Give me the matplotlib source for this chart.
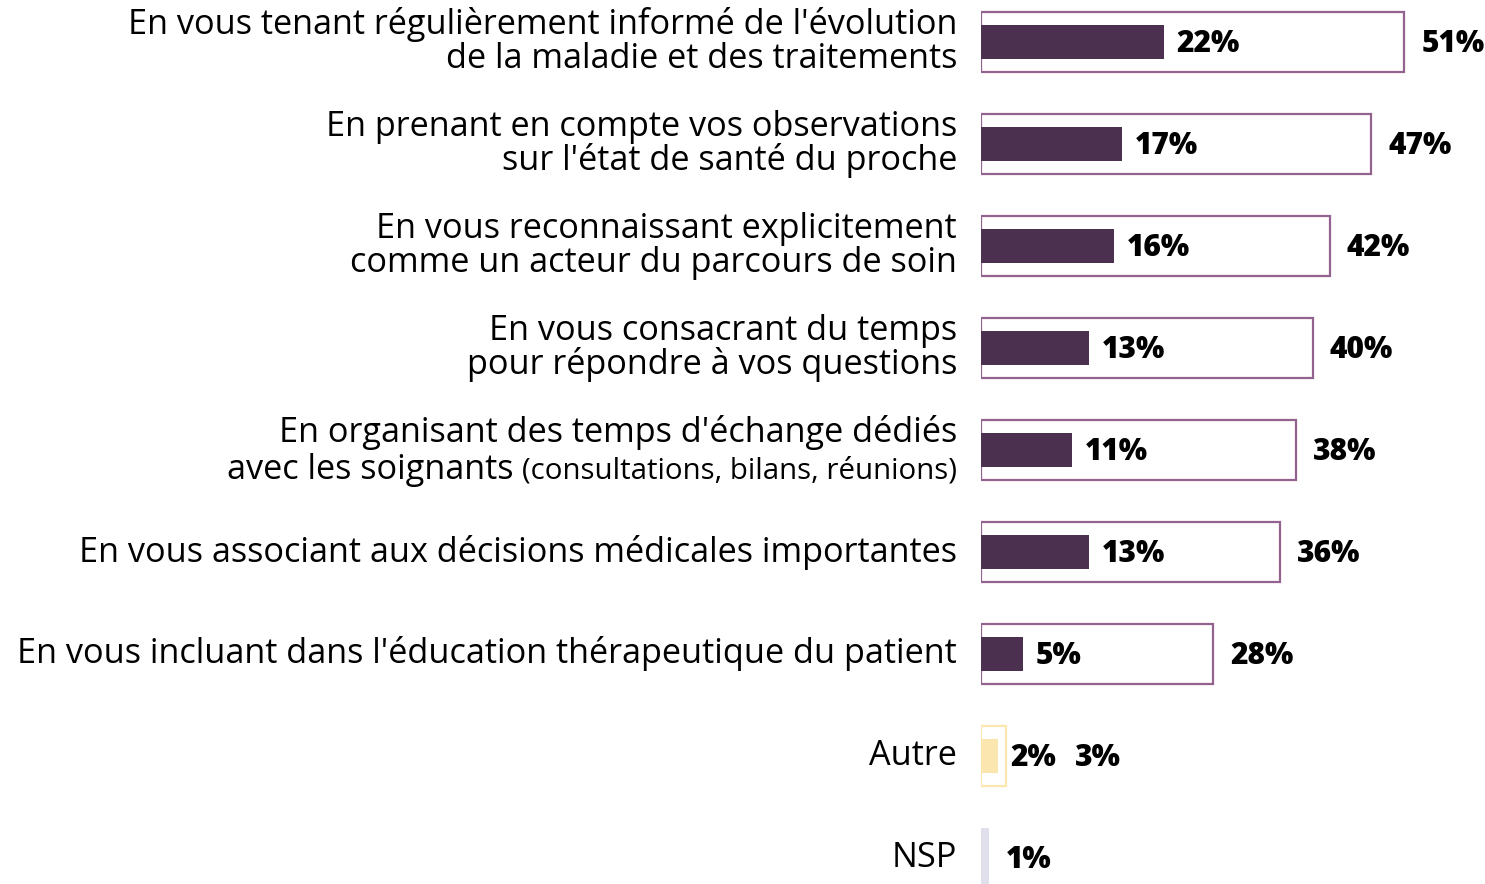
import matplotlib
matplotlib.use("Agg")
import matplotlib.pyplot as plt

plt.rcParams["font.family"] = ["Open Sans", "DejaVu Sans"]

labels = [
    "En vous tenant régulièrement informé de l'évolution\nde la maladie et des traitements",
    "En prenant en compte vos observations\nsur l'état de santé du proche",
    "En vous reconnaissant explicitement\ncomme un acteur du parcours de soin",
    "En vous consacrant du temps\npour répondre à vos questions",
    "En organisant des temps d'échange dédiés\navec les soignants ",
    "En vous associant aux décisions médicales importantes",
    "En vous incluant dans l'éducation thérapeutique du patient",
    "Autre",
    "NSP",
]
label_suffix = "(consultations, bilans, réunions)"
first_choice = [22, 17, 16, 13, 11, 13, 5, 2, None]
total = [51, 47, 42, 40, 38, 36, 28, 3, 1]

dark = "#4b3050"
edge = "#94628f"
fill_colors = [dark] * 7 + ["#fbe6b0", "#dfe0ec"]
edge_colors = [edge] * 7 + ["#fbe6b0", "#dfe0ec"]

W, H = 1485, 884
fig = plt.figure(figsize=(W / 100, H / 100), dpi=100)
ax = fig.add_axes([981 / W, 0, 1 - 981 / W, 1])
ax.set_xlim(0, (W - 981) / 8.3)
ax.set_ylim((H - 42) / 102, -42 / 102)
ax.axis("off")

fs = 24.7
nfs = 21.5
line_gap = 17  # px from row centre to each line centre
label_x = -24  # px from zero
num_dy = -2

for i, (lab, fc, tot) in enumerate(zip(labels, first_choice, total)):
    if fc is None:
        ax.barh(i, tot, height=0.59, color=fill_colors[i], linewidth=0)
    else:
        ax.barh(i, tot, height=0.59, facecolor="white", edgecolor=edge_colors[i], linewidth=1.6)
        ax.barh(i, fc, height=0.33, color=fill_colors[i], linewidth=0)
        inner = ax.annotate(f"{fc}%", (fc, i), xytext=(13, num_dy), textcoords="offset pixels",
                            ha="left", va="center", fontsize=nfs, fontweight="heavy")
    if fc is not None and tot - fc < 5:
        # outer label would collide with the inner one: put it after it
        ax.annotate(f"{tot}%", (1, 0.5), xycoords=inner, xytext=(18, 0),
                    textcoords="offset pixels", ha="left", va="center",
                    fontsize=nfs, fontweight="heavy")
    else:
        ax.annotate(f"{tot}%", (tot, i), xytext=(17, num_dy), textcoords="offset pixels",
                    ha="left", va="center", fontsize=nfs, fontweight="heavy")

    lines = lab.split("\n")
    if len(lines) == 1:
        ax.annotate(lines[0], (0, i), xytext=(label_x, 0), textcoords="offset pixels",
                    ha="right", va="center", fontsize=fs, annotation_clip=False)
        continue
    ax.annotate(lines[0], (0, i), xytext=(label_x, line_gap), textcoords="offset pixels",
                ha="right", va="center", fontsize=fs, annotation_clip=False)
    if i == 4:
        base = -line_gap - 0.34 * fs * 100 / 72
        small = ax.annotate(label_suffix, (0, i), xytext=(label_x, base),
                            textcoords="offset pixels", ha="right", va="baseline",
                            fontsize=fs - 3.5, annotation_clip=False)
        fig.canvas.draw()
        x0 = small.get_window_extent().x0 - ax.transData.transform((0, i))[0]
        ax.annotate(lines[1], (0, i), xytext=(x0, base), textcoords="offset pixels",
                    ha="right", va="baseline", fontsize=fs, annotation_clip=False)
    else:
        ax.annotate(lines[1], (0, i), xytext=(label_x, -line_gap), textcoords="offset pixels",
                    ha="right", va="center", fontsize=fs, annotation_clip=False)

fig.savefig("out.png", dpi=100)
